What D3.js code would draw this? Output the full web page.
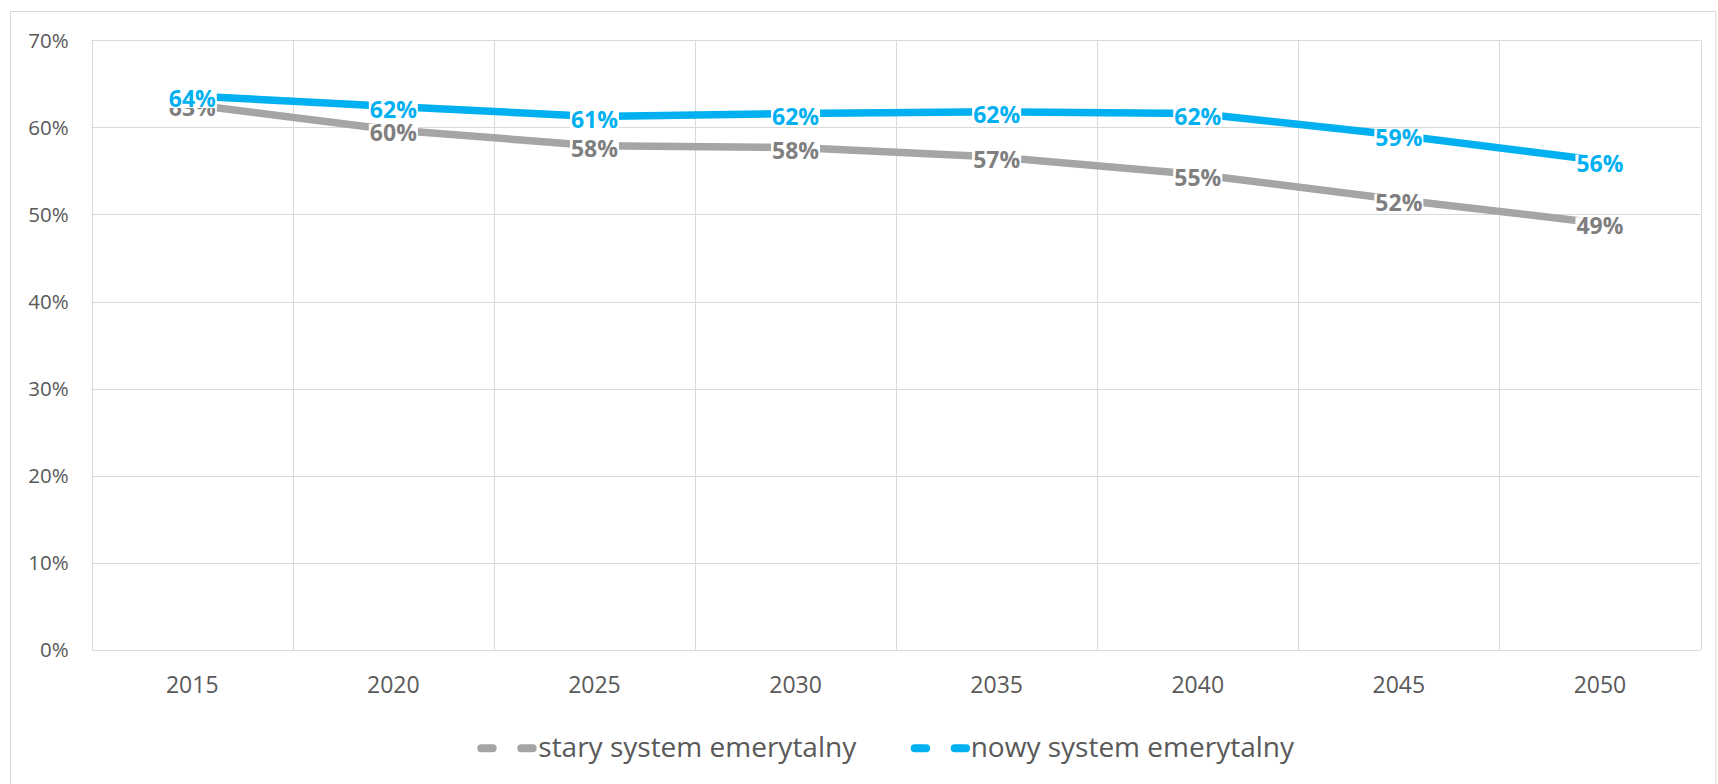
<!DOCTYPE html>
<html>
<head>
<meta charset="utf-8">
<script src="https://cdn.jsdelivr.net/npm/d3@7"></script>
<style>
  html, body { margin: 0; padding: 0; background: #ffffff; }
  svg { display: block; }
</style>
</head>
<body>
<svg id="chart" width="1718" height="784"></svg>
<script>
// ---- data ----
const years = ["2015", "2020", "2025", "2030", "2035", "2040", "2045", "2050"];
const staryValues = [0.626, 0.597, 0.579, 0.577, 0.566, 0.546, 0.517, 0.490];
const nowyValues  = [0.636, 0.624, 0.6125, 0.616, 0.618, 0.616, 0.591, 0.562];
const seriesNames = ["stary system emerytalny", "nowy system emerytalny"];
const yTicks = [0, 0.1, 0.2, 0.3, 0.4, 0.5, 0.6, 0.7];

// ---- styles ----
const FONT = "'Open Sans', 'Noto Sans', sans-serif";
const colors = ["#a5a5a5", "#00b0f0"];
const labelColors = ["#7f7f7f", "#00b0f0"];
const gridColor = "#d9d9d9";
const textColor = "#595959";

const svg = d3.select("#chart");

// chart border
svg.append("rect")
  .attr("x", 10.5).attr("y", 11.5)
  .attr("width", 1705.5).attr("height", 800)
  .attr("fill", "#fff").attr("stroke", gridColor).attr("stroke-width", 1);

const plot = { left: 91.7, right: 1700.5, top: 40.3, bottom: 650 };

const x = d3.scaleBand().domain(years).range([plot.left, plot.right]).padding(0);
const y = d3.scaleLinear().domain([0, 0.7]).range([plot.bottom, plot.top]);
const cx = d => x(d) + x.bandwidth() / 2;

// horizontal gridlines
svg.append("g").selectAll("line").data(yTicks).join("line")
  .attr("x1", plot.left).attr("x2", plot.right)
  .attr("y1", d => Math.round(y(d)) + 0.5).attr("y2", d => Math.round(y(d)) + 0.5)
  .attr("stroke", gridColor).attr("stroke-width", 1);

// vertical gridlines at band edges
const edges = years.map(d => x(d)).concat([plot.right]);
svg.append("g").selectAll("line").data(edges).join("line")
  .attr("x1", d => Math.round(d) + 0.5).attr("x2", d => Math.round(d) + 0.5)
  .attr("y1", plot.top).attr("y2", plot.bottom)
  .attr("stroke", gridColor).attr("stroke-width", 1);

// y axis labels
const pct = d3.format(".0%");
svg.append("g").selectAll("text").data(yTicks).join("text")
  .attr("x", 68.7).attr("y", d => y(d) + 7.3)
  .attr("text-anchor", "end")
  .attr("font-family", FONT).attr("font-size", 20.5)
  .attr("fill", textColor)
  .text(d => pct(d));

// x axis labels
svg.append("g").selectAll("text").data(years).join("text")
  .attr("x", d => cx(d)).attr("y", 693.3)
  .attr("text-anchor", "middle")
  .attr("font-family", FONT).attr("font-size", 23)
  .attr("fill", textColor)
  .text(d => d);

// lines
const series = [staryValues, nowyValues];
const lineGen = d3.line().x((d, i) => cx(years[i])).y(d => y(d));
series.forEach((vals, si) => {
  svg.append("path")
    .datum(vals)
    .attr("d", lineGen)
    .attr("fill", "none")
    .attr("stroke", colors[si])
    .attr("stroke-width", 7.5)
    .attr("stroke-linejoin", "round")
    .attr("stroke-linecap", "round");
});

// data labels (white background, centered on point)
const LABEL_SIZE = 23;
series.forEach((vals, si) => {
  const g = svg.append("g");
  vals.forEach((v, i) => {
    const lg = g.append("g").attr("transform", `translate(${cx(years[i])},${y(v) + 3})`);
    const bg = lg.append("rect").attr("fill", "#fff");
    const t = lg.append("text")
      .attr("x", 0).attr("y", LABEL_SIZE * 0.357)
      .attr("text-anchor", "middle")
      .attr("font-family", FONT).attr("font-size", LABEL_SIZE)
      .attr("font-weight", "bold")
      .attr("fill", labelColors[si])
      .text(pct(v));
    const w = t.node().getComputedTextLength();
    bg.attr("x", -w / 2 - 1).attr("y", -9).attr("width", w + 2).attr("height", 18);
  });
});

// legend
const legendItems = [
  { x1: 481.3, x2: 532.7, tx: 538.3 },
  { x1: 914.7, x2: 966.1, tx: 970.7 }
];
legendItems.forEach((it, i) => {
  svg.append("line")
    .attr("x1", it.x1).attr("x2", it.x2)
    .attr("y1", 748.3).attr("y2", 748.3)
    .attr("stroke", colors[i]).attr("stroke-width", 8)
    .attr("stroke-linecap", "round")
    .attr("stroke-dasharray", "11.4 28.6");
  svg.append("text")
    .attr("x", it.tx).attr("y", 756.7)
    .attr("font-family", FONT).attr("font-size", 28)
    .attr("fill", textColor)
    .text(seriesNames[i]);
});
</script>
</body>
</html>
